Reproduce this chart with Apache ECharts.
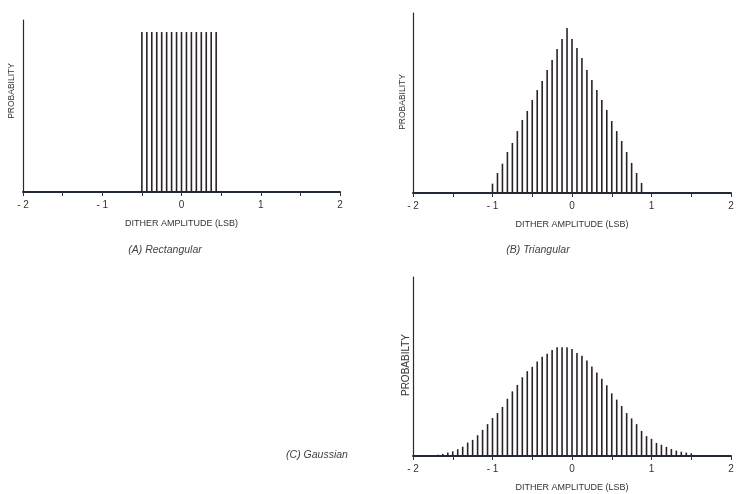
<!DOCTYPE html>
<html>
<head>
<meta charset="utf-8">
<script src="https://cdn.jsdelivr.net/npm/echarts@6/dist/echarts.min.js"></script>
<style>
html,body{margin:0;padding:0;background:#fff;}
#chart{width:752px;height:494px;}
</style>
</head>
<body>
<div id="chart"></div>
<script>
// ---- data (relative probability, 0-100 of axis height) ----
var tickLabels = {'-2': '- 2', '-1': '- 1', '0': '0', '1': '1', '2': '2'};
var xAxisName = 'DITHER AMPLITUDE (LSB)';
var captions = ['(A) Rectangular', '(B) Triangular', '(C) Gaussian'];
var yNames = ['PROBABILITY', 'PROBABILITY', 'PROBABILTY'];

var rectX = [-0.5, -0.4375, -0.375, -0.3125, -0.25, -0.1875, -0.125, -0.0625,
             0, 0.0625, 0.125, 0.1875, 0.25, 0.3125, 0.375, 0.4375];
var rectY = [93, 93, 93, 93, 93, 93, 93, 93, 93, 93, 93, 93, 93, 93, 93, 93];

var triX = [-1, -0.9375, -0.875, -0.8125, -0.75, -0.6875, -0.625, -0.5625,
            -0.5, -0.4375, -0.375, -0.3125, -0.25, -0.1875, -0.125, -0.0625,
            0, 0.0625, 0.125, 0.1875, 0.25, 0.3125, 0.375, 0.4375,
            0.5, 0.5625, 0.625, 0.6875, 0.75, 0.8125, 0.875];
var triY = [5.2, 11.1, 16.3, 22.8, 27.8, 34.4, 40.6, 45.6,
            51.7, 57.2, 62.2, 68.3, 73.9, 80, 85.6, 91.7,
            85.6, 80.6, 75, 68.3, 62.8, 57.2, 51.7, 46.1,
            40, 34.4, 28.9, 22.8, 16.7, 11.1, 5.6];

var gaussX = [-1.6875, -1.625, -1.5625, -1.5, -1.4375, -1.375, -1.3125, -1.25,
              -1.1875, -1.125, -1.0625, -1, -0.9375, -0.875, -0.8125, -0.75,
              -0.6875, -0.625, -0.5625, -0.5, -0.4375, -0.375, -0.3125, -0.25,
              -0.1875, -0.125, -0.0625, 0, 0.0625, 0.125, 0.1875, 0.25,
              0.3125, 0.375, 0.4375, 0.5, 0.5625, 0.625, 0.6875, 0.75,
              0.8125, 0.875, 0.9375, 1, 1.0625, 1.125, 1.1875, 1.25,
              1.3125, 1.375, 1.4375, 1.5];
var gaussY = [0.7, 1.1, 1.9, 2.6, 3.8, 5.2, 7.5, 9.0,
              11.6, 14.6, 17.8, 21.2, 24.0, 27.4, 32.0, 36.1,
              39.7, 44.0, 47.4, 49.8, 52.8, 55.4, 57.1, 59.2,
              60.8, 60.8, 60.8, 59.8, 57.5, 56.0, 53.4, 50.0,
              46.6, 43.1, 39.5, 35.0, 31.5, 27.9, 24.0, 21.0,
              17.8, 14.0, 11.1, 9.6, 7.3, 6.3, 5.1, 3.9,
              3.0, 2.4, 1.9, 1.5];

// ---- chart ----
function pairs(xs, ys) { return xs.map(function (x, i) { return [x, ys[i]]; }); }

var FONT = '"Liberation Sans", Arial, sans-serif';
var barColor = '#2a2226';
var grids = [
  {left: 23, right: 412, top: 20, bottom: 302},
  {left: 413, right: 21, top: 13, bottom: 301},
  {left: 413, right: 21, top: 277, bottom: 38}
];

function makeX(i) {
  return {
    gridIndex: i, type: 'value', min: -2, max: 2, interval: 0.5,
    name: xAxisName, nameLocation: 'middle', nameGap: 27,
    nameTextStyle: {fontFamily: FONT, fontSize: 9, color: '#333'},
    axisLine: {onZero: false, lineStyle: {color: '#1f2a36', width: 2}},
    axisTick: {show: true, length: 4, lineStyle: {color: '#333', width: 1}},
    axisLabel: {
      fontFamily: FONT, fontSize: 10, color: '#333', margin: 8,
      formatter: function (v) { return tickLabels[String(v)] || ''; }
    },
    splitLine: {show: false}
  };
}
function makeY(i) {
  return {
    gridIndex: i, type: 'value', min: 0, max: 100,
    axisLine: {show: true, onZero: false, lineStyle: {color: '#2b2b2b', width: 1.2}},
    axisTick: {show: false}, axisLabel: {show: false}, splitLine: {show: false}
  };
}
function makeBars(i, xs, ys) {
  return {
    type: 'bar', xAxisIndex: i, yAxisIndex: i, data: pairs(xs, ys),
    barWidth: 1.6, itemStyle: {color: barColor}, silent: true
  };
}

var yLabelPos = [[12, 91, 8.5], [403, 102, 8.5], [406, 365, 10]];
var captionPos = [[165, 250], [538, 250], [317, 455]];
var graphics = [];
yLabelPos.forEach(function (p, i) {
  graphics.push({
    type: 'text', x: p[0], y: p[1], rotation: Math.PI / 2,
    style: {text: yNames[i], fontFamily: FONT, fontSize: p[2], fill: '#333',
            align: 'center', verticalAlign: 'middle'}
  });
});
captionPos.forEach(function (p, i) {
  graphics.push({
    type: 'text', x: p[0], y: p[1],
    style: {text: captions[i], fontFamily: FONT, fontSize: 10.5, fontStyle: 'italic',
            fill: '#444', align: 'center', verticalAlign: 'middle'}
  });
});

var chart = echarts.init(document.getElementById('chart'), null, {renderer: 'canvas'});
chart.setOption({
  animation: false,
  backgroundColor: '#ffffff',
  grid: grids,
  xAxis: [makeX(0), makeX(1), makeX(2)],
  yAxis: [makeY(0), makeY(1), makeY(2)],
  series: [makeBars(0, rectX, rectY), makeBars(1, triX, triY), makeBars(2, gaussX, gaussY)],
  graphic: graphics
});
</script>
</body>
</html>
